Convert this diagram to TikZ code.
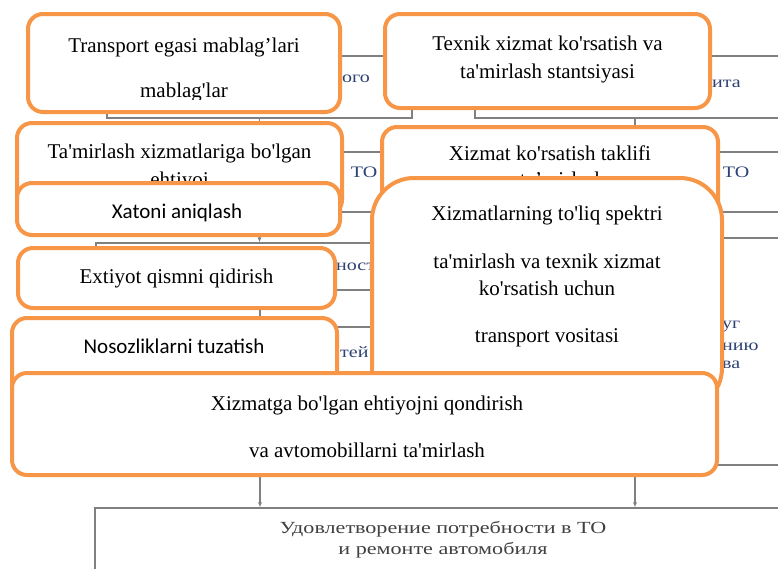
\documentclass[tikz,border=0pt]{standalone}
\usepackage{graphicx}
\usepackage{fontspec}
\setmainfont{Liberation Serif}
\newfontfamily\calib{Carlito}
\usetikzlibrary{arrows.meta}
\definecolor{org}{RGB}{247,150,70}
\definecolor{grayline}{RGB}{128,128,128}
\definecolor{rutext}{RGB}{45,65,115}
\definecolor{rudark}{RGB}{64,64,64}
\newcommand{\q}{\textquotesingle}
\newcommand{\ru}[1]{\scalebox{1.25}[1]{#1}}
\begin{document}
\begin{tikzpicture}[x=1pt,y=-1pt,
  obox/.style={draw=org, line width=4pt, fill=white, rounded corners=15pt, rectangle, inner sep=0pt},
  gbox/.style={draw=grayline, line width=1.1pt, rectangle, inner sep=0pt},
  txt/.style={font=\fontsize{21}{25}\selectfont, inner sep=0pt, anchor=base},
  stxt/.style={font=\calib\fontsize{21}{25}\selectfont, inner sep=0pt, anchor=base},
  rtxt/.style={font=\fontsize{16}{18}\selectfont, text=rutext, inner sep=0pt, anchor=base},
  btxt/.style={font=\fontsize{17}{19}\selectfont, text=rudark, inner sep=0pt, anchor=base},
  arr/.style={draw=grayline, line width=1.1pt, -{Latex[length=5pt,width=4pt]}}
]
\clip (0,0) rectangle (778,568);
% ---------- underlying grey diagram ----------
\node[gbox, minimum width=305pt, minimum height=62pt] (g1) at (259.5,87) {};
\node[gbox, minimum width=320pt, minimum height=62pt] (g2) at (635,87) {};
\node[gbox, minimum width=305pt, minimum height=60pt] (g3) at (259.5,182) {};
\node[gbox, minimum width=320pt, minimum height=60pt] (g4) at (635,182) {};
\node[gbox, minimum width=328pt, minimum height=47pt] (g5) at (260,266.5) {};
\node[gbox, minimum width=328pt, minimum height=138pt] (g6) at (260,396) {};
\node[gbox, minimum width=320pt, minimum height=227pt] (g7) at (635,351.5) {};
\node[gbox, minimum width=700pt, minimum height=112pt] (g8) at (445,564) {};
\draw[arr] (g1.south) -- (g1.south |- g3.north);
\draw[arr] (g2.south) -- (g2.south |- g4.north);
\draw[arr] (g3.south) -- (g3.south |- g5.north);
\draw[arr] (g4.south) -- (g4.south |- g7.north);
\draw[arr] (g5.south) -- (g5.south |- g6.north);
\draw[arr] (g6.south) -- (g6.south |- g8.north);
\draw[arr] (g7.south) -- (g7.south |- g8.north);
\node[rtxt] (r1) at (356,82) {\ru{ого}};
\node[rtxt, anchor=base west] (r2) at (712,87) {\ru{ита}};
\node[rtxt] (r3) at (364,177) {\ru{ТО}};
\node[rtxt] (r4) at (736,177) {\ru{ТО}};
\node[rtxt, anchor=base west] (r5) at (336,270) {\ru{ности}};
\node[rtxt, anchor=base west] (r6) at (340,357) {\ru{тей}};
\node[rtxt, anchor=base west] (r7) at (722,328) {\ru{уг}};
\node[rtxt, anchor=base west] (r8) at (722,350) {\ru{нию}};
\node[rtxt, anchor=base west] (r9) at (722,368) {\ru{ва}};
\node[btxt] (b1) at (443,533) {\scalebox{1.3}[1]{Удовлетворение потребности в ТО}};
\node[btxt] (b2) at (443,554) {\scalebox{1.3}[1]{и ремонте автомобиля}};
% ---------- orange boxes ----------
\node[obox, minimum width=312pt, minimum height=98pt] (A) at (184,63) {};
\node[txt] (a1) at (184,52) {Transport egasi mablag’lari};
\begin{scope}
\clip (28,14) rectangle (340,99.5);
\node[txt] (a2) at (184,97) {mablag\q lar};
\end{scope}
\node[obox, minimum width=325pt, minimum height=94pt] (B) at (547.5,61) {};
\node[txt] (b1t) at (547.5,50) {Texnik xizmat ko\q rsatish va};
\node[txt] (b2t) at (547.5,78) {ta\q mirlash stantsiyasi};
\node[obox, minimum width=325pt, minimum height=92pt] (C) at (179.5,169) {};
\node[txt] (c1) at (179.5,158) {Ta\q mirlash xizmatlariga bo\q lgan};
\node[txt] (c2) at (179.5,186) {ehtiyoj};
\node[obox, minimum width=336pt, minimum height=103pt] (E) at (550,178.5) {};
\node[txt] (e1) at (550,160) {Xizmat ko\q rsatish taklifi};
\node[txt] (e2) at (550,186) {va ta’mirlash};
\node[obox, minimum width=323pt, minimum height=52pt] (D) at (178.5,209) {};
\node[stxt] (d1) at (177,218) {Xatoni aniqlash};
\node[obox, rounded corners=42pt, minimum width=350pt, minimum height=232pt] (F) at (547,294) {};
\node[txt] (f1) at (547,220) {Xizmatlarning to\q liq spektri};
\node[txt] (f2) at (547,268) {ta\q mirlash va texnik xizmat};
\node[txt] (f3) at (547,295) {ko\q rsatish uchun};
\node[txt] (f4) at (547,342) {transport vositasi};
\node[obox, minimum width=317pt, minimum height=60pt] (G) at (176.5,278) {};
\node[txt] (g1t) at (176.5,283) {Extiyot qismni qidirish};
\node[obox, minimum width=325pt, minimum height=82pt] (H) at (174.5,359) {};
\node[stxt] (h1) at (174,353) {Nosozliklarni tuzatish};
\node[obox, minimum width=705pt, minimum height=102pt] (I) at (364.5,424) {};
\node[txt] (i1) at (367,410) {Xizmatga bo\q lgan ehtiyojni qondirish};
\node[txt] (i2) at (367,457) {va avtomobillarni ta\q mirlash};
\end{tikzpicture}
\end{document}
